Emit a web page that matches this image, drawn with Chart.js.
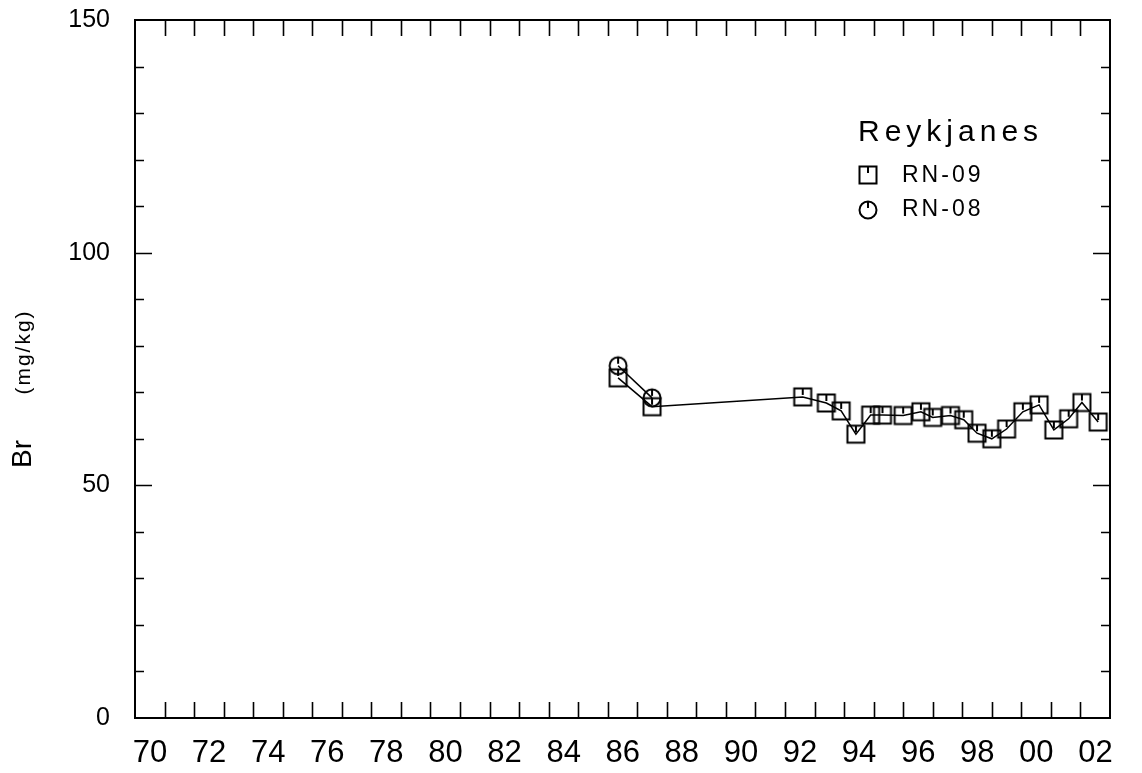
<!DOCTYPE html>
<html>
<head>
<meta charset="utf-8">
<script src="https://cdn.jsdelivr.net/npm/chart.js@4.4.1/dist/chart.umd.min.js"></script>
<style>
    body { margin: 0; background: #fff; }
</style>
</head>
<body>
<canvas id="grafico" width="1142" height="773"></canvas>
<script>
// Dados (ano, Br mg/kg)
const anosRN09 = [1986.35, 1987.5, 1992.6, 1993.4, 1993.9, 1994.4, 1994.9, 1995.3, 1996.0, 1996.6, 1997.0,
    1997.6, 1998.05, 1998.5, 1999.0, 1999.5, 2000.05, 2000.6, 2001.1, 2001.6, 2002.05, 2002.6];
const brRN09 = [73.1, 66.9, 69.0, 67.7, 66.0, 61.0, 65.1, 65.1, 65.0, 65.8, 64.6,
    65.0, 64.1, 61.2, 60.0, 62.1, 65.8, 67.3, 61.9, 64.3, 67.8, 63.6];
const anosRN08 = [1986.35, 1987.5];
const brRN08 = [75.7, 68.8];

const xTickAnos = [1970, 1972, 1974, 1976, 1978, 1980, 1982, 1984, 1986, 1988, 1990, 1992, 1994, 1996, 1998, 2000, 2002];
const xTickLabels = ['70', '72', '74', '76', '78', '80', '82', '84', '86', '88', '90', '92', '94', '96', '98', '00', '02'];
const yTickValores = [0, 50, 100, 150];
const yTickLabels = ['0', '50', '100', '150'];

const fonte = "'Liberation Sans', 'DejaVu Sans', sans-serif";

// Marcadores: quadrado e círculo com um tracinho no topo
function criarMarcador(tipo) {
    const c = document.createElement('canvas');
    c.width = 22;
    c.height = 22;
    const g = c.getContext('2d');
    g.strokeStyle = '#000';
    g.lineWidth = 2;
    g.beginPath();
    if (tipo === 'quadrado') {
        g.rect(2.5, 2.5, 17, 17);
    } else {
        g.arc(11, 11, 8.5, 0, Math.PI * 2);
    }
    g.moveTo(11, 2.5);
    g.lineTo(11, 9);
    g.stroke();
    return c;
}

const marcadorQuadrado = criarMarcador('quadrado');
const marcadorCirculo = criarMarcador('circulo');

function pares(anos, valores) {
    return anos.map((ano, i) => ({ x: ano, y: valores[i] }));
}

// Moldura, marcas internas, título do eixo y e legenda
const pluginMoldura = {
    id: 'moldura',
    beforeDraw(chart) {
        const ctx = chart.ctx;
        ctx.save();
        ctx.fillStyle = '#fff';
        ctx.fillRect(0, 0, chart.width, chart.height);
        ctx.restore();
    },
    afterDraw(chart) {
        const ctx = chart.ctx;
        const { left, right, top, bottom } = chart.chartArea;
        const x = chart.scales.x;
        const y = chart.scales.y;

        ctx.save();
        ctx.strokeStyle = '#000';
        ctx.lineWidth = 2;
        ctx.strokeRect(left, top, right - left, bottom - top);

        ctx.lineWidth = 1.6;
        ctx.beginPath();
        for (let ano = 1971; ano <= 2002; ano++) {
            const px = Math.round(x.getPixelForValue(ano)) + 0.5;
            ctx.moveTo(px, bottom);
            ctx.lineTo(px, bottom - 16);
            ctx.moveTo(px, top);
            ctx.lineTo(px, top + 16);
        }
        for (let v = 10; v < 150; v += 10) {
            const py = Math.round(y.getPixelForValue(v)) + 0.5;
            const tam = v % 50 === 0 ? 17 : 9;
            ctx.moveTo(left, py);
            ctx.lineTo(left + tam, py);
            ctx.moveTo(right, py);
            ctx.lineTo(right - tam, py);
        }
        ctx.stroke();

        // título do eixo y
        ctx.fillStyle = '#000';
        ctx.textAlign = 'center';
        ctx.textBaseline = 'middle';
        ctx.save();
        ctx.translate(23, 454);
        ctx.rotate(-Math.PI / 2);
        ctx.font = '28px ' + fonte;
        ctx.fillText('Br', 0, 0);
        ctx.restore();
        ctx.save();
        ctx.translate(24, 352);
        ctx.rotate(-Math.PI / 2);
        ctx.font = '21px ' + fonte;
        ctx.letterSpacing = '2px';
        ctx.fillText('(mg/kg)', 0, 0);
        ctx.restore();

        // legenda
        ctx.textAlign = 'left';
        ctx.textBaseline = 'alphabetic';
        ctx.font = '30px ' + fonte;
        ctx.letterSpacing = '5px';
        ctx.fillText('Reykjanes', 858, 141);
        ctx.font = '23px ' + fonte;
        ctx.letterSpacing = '3px';
        ctx.textBaseline = 'middle';
        ctx.drawImage(marcadorQuadrado, 857, 164);
        ctx.fillText('RN-09', 902, 176);
        ctx.drawImage(marcadorCirculo, 857, 199);
        ctx.fillText('RN-08', 902, 210);
        ctx.restore();
    }
};

const ctx = document.getElementById('grafico').getContext('2d');

const chart = new Chart(ctx, {
    type: 'line',
    data: {
        datasets: [{
            label: 'RN-09',
            data: pares(anosRN09, brRN09),
            borderColor: '#000',
            borderWidth: 1.5,
            pointStyle: marcadorQuadrado,
            pointRadius: 9,
            tension: 0
        }, {
            label: 'RN-08',
            data: pares(anosRN08, brRN08),
            borderColor: '#000',
            borderWidth: 1.5,
            pointStyle: marcadorCirculo,
            pointRadius: 9,
            tension: 0
        }]
    },
    options: {
        responsive: false,
        animation: false,
        layout: {
            padding: { top: 20, right: 32, bottom: 0, left: 0 }
        },
        plugins: {
            legend: { display: false },
            tooltip: { enabled: false }
        },
        scales: {
            x: {
                type: 'linear',
                min: 1970,
                max: 2003,
                grid: { display: false, drawTicks: false },
                border: { display: false },
                afterBuildTicks: function (scale) {
                    scale.ticks = xTickAnos.map(v => ({ value: v }));
                },
                afterFit: function (scale) {
                    scale.height = 55;
                    scale.paddingRight = 0;
                },
                ticks: {
                    autoSkip: false,
                    maxRotation: 0,
                    padding: 17,
                    labelOffset: 15,
                    color: '#000',
                    font: { family: fonte, size: 31 },
                    callback: function (valor) {
                        return xTickLabels[xTickAnos.indexOf(valor)];
                    }
                }
            },
            y: {
                min: 0,
                max: 150,
                grid: { display: false, drawTicks: false },
                border: { display: false },
                afterBuildTicks: function (scale) {
                    scale.ticks = yTickValores.map(v => ({ value: v }));
                },
                afterFit: function (scale) {
                    scale.width = 135;
                    scale.paddingTop = 0;
                    scale.paddingBottom = 0;
                },
                ticks: {
                    padding: 25,
                    color: '#000',
                    font: { family: fonte, size: 25 },
                    callback: function (valor) {
                        return yTickLabels[yTickValores.indexOf(valor)];
                    }
                }
            }
        }
    },
    plugins: [pluginMoldura]
});
</script>
</body>
</html>
